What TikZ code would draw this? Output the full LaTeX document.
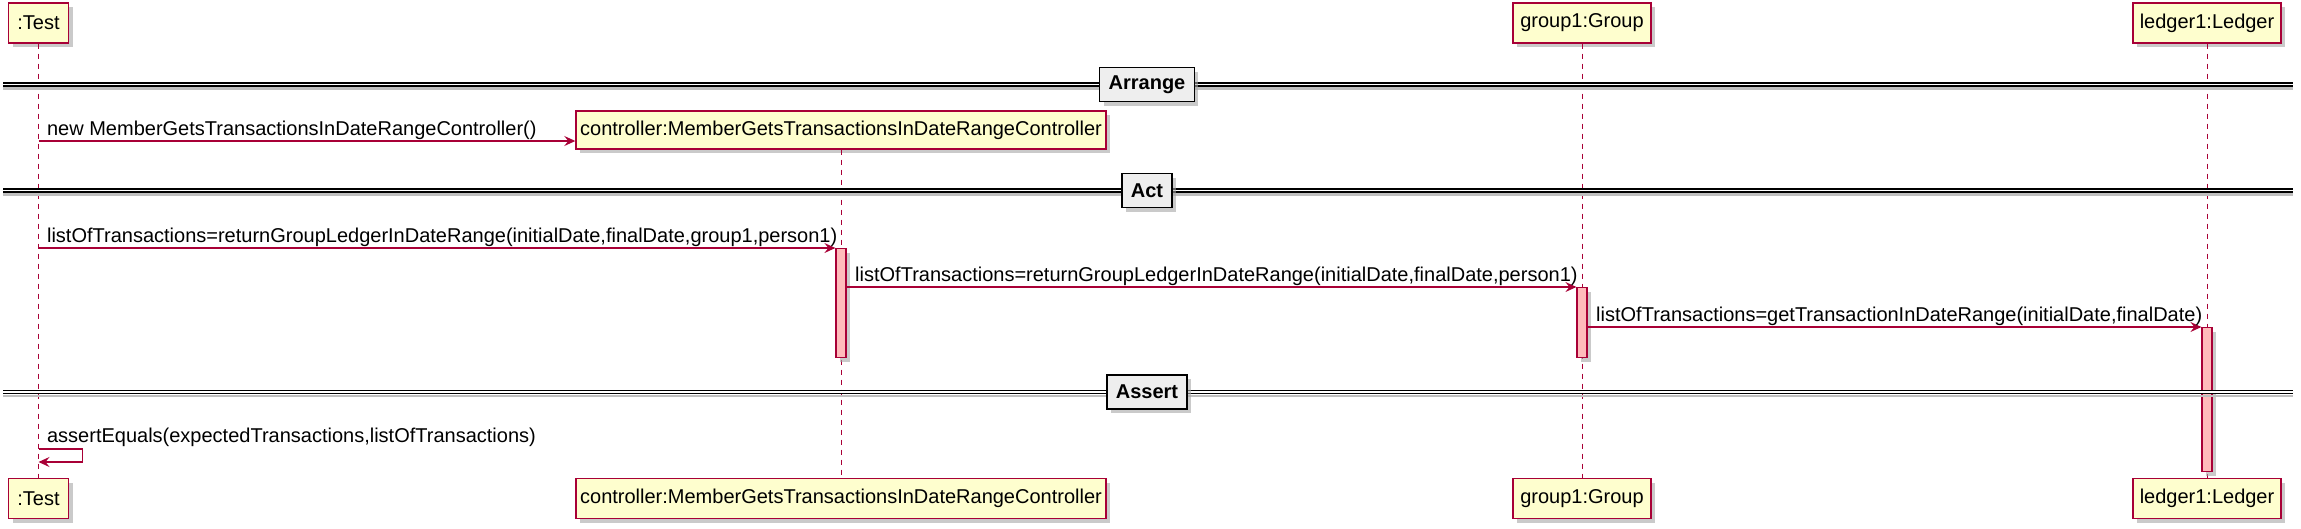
\documentclass[tikz,border=0pt]{standalone}
\usepackage{fontspec}
\setmainfont{Liberation Sans}
\usepackage{tikz}
\usetikzlibrary{arrows.meta,shadows}
\definecolor{umlred}{HTML}{A80036}
\definecolor{umlyellow}{HTML}{FEFECE}
\definecolor{umlpink}{HTML}{FFBBBB}
\definecolor{sepgray}{HTML}{EEEEEE}

\begin{document}
\begin{tikzpicture}[x=1pt, y=-1pt,
    every node/.style={font=\fontsize{20}{24}\selectfont},
    shade/.style={drop shadow={shadow xshift=4pt, shadow yshift=-4pt, fill=black!35, opacity=0.6}},
    part/.style={draw=umlred, fill=umlyellow, line width=1.4pt, minimum height=40pt, inner sep=0pt, shade},
    act/.style={draw=umlred, fill=umlpink, line width=1.2pt, minimum width=10pt, inner sep=0pt, anchor=north, shade},
    sep/.style={draw=black, fill=sepgray, line width=1.4pt, minimum height=34pt, inner xsep=9pt, inner ysep=0pt,
        font=\fontsize{20}{24}\selectfont\bfseries, shade},
    sepline/.style={draw=black, line width=1.3pt, double=white, double distance=1.6pt},
    life/.style={draw=umlred, line width=1pt, dash pattern=on 5pt off 5pt},
    msg/.style={draw=umlred, line width=1.2pt, -{Stealth[length=11pt, width=10pt, inset=4pt]}},
    lbl/.style={anchor=base west, inner sep=0pt, xshift=8pt, yshift=6pt}]

    \useasboundingbox (0,0) rectangle (2301,528);

    % participants
    \node[part, minimum width=60pt]  (test)    at (38.5,23)   {:Test};
    \node[part, minimum width=138pt] (group)   at (1582,23)   {group1:Group};
    \node[part, minimum width=148pt] (ledger)  at (2207,23)   {ledger1:Ledger};
    \node[part, minimum width=530pt, minimum height=38pt] (ctrl) at (841,130)
        {controller:MemberGetsTransactionsInDateRangeController};

    \node[part, minimum width=60pt]  (testB)   at (38.5,498.5) {:Test};
    \node[part, minimum width=530pt] (ctrlB)   at (841,498.5)
        {controller:MemberGetsTransactionsInDateRangeController};
    \node[part, minimum width=138pt] (groupB)  at (1582,498.5) {group1:Group};
    \node[part, minimum width=148pt] (ledgerB) at (2207,498.5) {ledger1:Ledger};

    % lifelines
    \draw[life] (test) -- (testB);
    \draw[life] (ctrl) -- (ctrlB);
    \draw[life] (group) -- (groupB);
    \draw[life] (ledger) -- (ledgerB);

    % activations
    \node[act, minimum height=109pt] (actC) at (841,248)  {};
    \node[act, minimum height=70pt]  (actG) at (1582,287) {};
    \node[act, minimum height=144pt] (actL) at (2207,327) {};

    % separators
    \coordinate (L) at (3,0);
    \coordinate (R) at (2293,0);
    \foreach \y/\name/\txt in {84.5/arrange/Arrange, 190.5/act/Act, 392/assert/Assert} {
        \coordinate (\name) at (1147,\y);
        \draw[black!25, line width=2.5pt] ([yshift=-4pt]L |- \name) -- ([yshift=-4pt]R |- \name);
        \draw[sepline] (L |- \name) -- (R |- \name);
        \node[sep] (sep\name) at (\name) {\txt};
    }

    % messages
    \coordinate (m1) at (38.5,141);
    \draw[msg] (m1) -- (m1 -| ctrl.west)
        node[lbl, at start] {new MemberGetsTransactionsInDateRangeController()};
    \draw[msg] (actC.north -| test) -- (actC.north west)
        node[lbl, at start] {listOfTransactions=returnGroupLedgerInDateRange(initialDate,finalDate,group1,person1)};
    \draw[msg] (actG.north -| actC.east) -- (actG.north west)
        node[lbl, at start] {listOfTransactions=returnGroupLedgerInDateRange(initialDate,finalDate,person1)};
    \draw[msg] (actL.north -| actG.east) -- (actL.north west)
        node[lbl, at start] {listOfTransactions=getTransactionInDateRange(initialDate,finalDate)};

    \coordinate (selfA) at (38.5,449);
    \coordinate (selfB) at (38.5,462);
    \draw[msg] (selfA) node[lbl, yshift=1pt] {assertEquals(expectedTransactions,listOfTransactions)}
        -- ++(44,0) |- (selfB);

\end{tikzpicture}
\end{document}
